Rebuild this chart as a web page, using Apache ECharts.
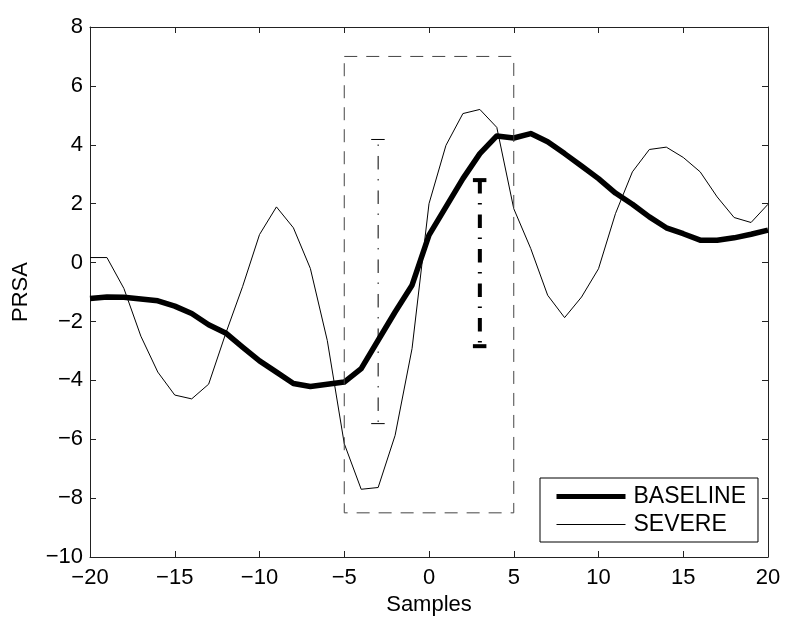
<!DOCTYPE html>
<html>
<head>
<meta charset="utf-8">
<script src="https://cdn.jsdelivr.net/npm/echarts@6/dist/echarts.min.js"></script>
<style>
  html, body { margin: 0; padding: 0; background: #fff; }
  #main { width: 790px; height: 624px; }
</style>
</head>
<body>
<div id="main"></div>
<script>
// sample index -20 .. 20
const samples = [-20, -19, -18, -17, -16, -15, -14, -13, -12, -11, -10, -9, -8, -7, -6, -5, -4, -3, -2, -1,
  0, 1, 2, 3, 4, 5, 6, 7, 8, 9, 10, 11, 12, 13, 14, 15, 16, 17, 18, 19, 20];

const baseline = [-1.22, -1.17, -1.18, -1.24, -1.30, -1.48, -1.73, -2.11, -2.39, -2.87, -3.34, -3.72, -4.11, -4.21, -4.13, -4.06, -3.60, -2.64, -1.68, -0.77,
  0.93, 1.89, 2.85, 3.70, 4.30, 4.23, 4.38, 4.10, 3.70, 3.28, 2.85, 2.36, 1.98, 1.55, 1.18, 0.98, 0.76, 0.76, 0.84, 0.96, 1.10];

const severe = [0.17, 0.17, -0.88, -2.50, -3.72, -4.50, -4.63, -4.13, -2.42, -0.82, 0.95, 1.89, 1.18, -0.20, -2.65, -6.15, -7.70, -7.64, -5.87, -2.92,
  2.00, 3.98, 5.06, 5.20, 4.59, 1.83, 0.48, -1.11, -1.87, -1.17, -0.21, 1.66, 3.08, 3.84, 3.92, 3.57, 3.08, 2.23, 1.53, 1.36, 1.98];

// dashed window: x from -5 to 5, y from -8.5 to 7
const boxX = [-5, 5];
const boxY = [-8.5, 7];

// dash-dot bars: [x, bottom, top]
const thinBar = [-3, -5.47, 4.18];
const thickBar = [3, -2.84, 2.80];

const xTicks = { min: -20, max: 20, step: 5 };
const yTicks = { min: -10, max: 8, step: 2 };

const FONT = '"Liberation Sans", Arial, sans-serif';
const minus = v => String(v).replace('-', '\u2212');

function seg(data, width, dash, offset) {
  return {
    type: 'line',
    data: data,
    symbol: 'none',
    silent: true,
    lineStyle: { color: '#000', width: width, type: dash, dashOffset: offset || 0, cap: 'butt' }
  };
}

function barSeries(bar, width) {
  const [x, lo, hi] = bar;
  const dd = [13.5, 9.5, 1.5, 10];
  return [
    seg([[x, hi], [x, lo]], width, dd, width > 2 ? 0 : 18),
    seg([[x - 1, hi], [x + 0.5, hi]], width, dd, 24.5),
    seg([[x - 1, lo], [x + 0.5, lo]], width, dd, 24.5)
  ];
}

const boxData = [[boxX[0], boxY[1]], [boxX[1], boxY[1]], [boxX[1], boxY[0]], [boxX[0], boxY[0]], [boxX[0], boxY[1]]];

const axisCommon = {
  type: 'value',
  splitLine: { show: false },
  axisLine: { show: true, onZero: false, lineStyle: { color: '#222', width: 1 } },
  axisTick: { show: true, inside: true, length: 6, lineStyle: { color: '#222' } }
};

let option = {
  backgroundColor: '#fff',
  animation: false,
  grid: { left: 90, right: 22, top: 27, bottom: 67 },
  xAxis: [
    Object.assign({}, axisCommon, {
      position: 'bottom',
      min: xTicks.min, max: xTicks.max, interval: xTicks.step,
      name: 'Samples',
      nameLocation: 'middle',
      nameGap: 34,
      nameTextStyle: { fontFamily: FONT, fontSize: 22, color: '#000' },
      axisLabel: { fontFamily: FONT, fontSize: 22, color: '#000', margin: 10, formatter: minus }
    }),
    Object.assign({}, axisCommon, {
      position: 'top',
      min: xTicks.min, max: xTicks.max, interval: xTicks.step,
      axisLabel: { show: false }
    })
  ],
  yAxis: [
    Object.assign({}, axisCommon, {
      position: 'left',
      min: yTicks.min, max: yTicks.max, interval: yTicks.step,
      name: 'PRSA',
      nameLocation: 'middle',
      nameGap: 58,
      nameTextStyle: { fontFamily: FONT, fontSize: 22, color: '#000' },
      axisLabel: { fontFamily: FONT, fontSize: 22, color: '#000', margin: 7, formatter: minus }
    }),
    Object.assign({}, axisCommon, {
      position: 'right',
      min: yTicks.min, max: yTicks.max, interval: yTicks.step,
      axisLabel: { show: false }
    })
  ],
  legend: {
    orient: 'vertical',
    left: 540,
    top: 478,
    padding: [7, 12, 6, 14],
    itemWidth: 69,
    itemHeight: 24,
    itemGap: 5,
    borderColor: '#000',
    borderWidth: 1,
    backgroundColor: '#fff',
    textStyle: { fontFamily: FONT, fontSize: 23, color: '#000', padding: [0, 0, 0, 3] },
    data: [
      { name: 'BASELINE', itemStyle: { opacity: 0 }, lineStyle: { width: 5, color: '#000' } },
      { name: 'SEVERE', itemStyle: { opacity: 0 }, lineStyle: { width: 1, color: '#000' } }
    ]
  },
  series: [
    {
      name: 'SEVERE',
      type: 'line',
      data: samples.map((s, i) => [s, severe[i]]),
      symbol: 'none',
      lineStyle: { color: '#000', width: 1 },
      itemStyle: { color: '#000' }
    },
    {
      name: 'BASELINE',
      type: 'line',
      data: samples.map((s, i) => [s, baseline[i]]),
      symbol: 'none',
      lineStyle: { color: '#000', width: 5.5, join: 'round' },
      itemStyle: { color: '#000' }
    },
    {
      type: 'line',
      data: boxData,
      symbol: 'none',
      silent: true,
      lineStyle: { color: '#444', width: 1, type: [13, 9] }
    },
    ...barSeries(thinBar, 1),
    ...barSeries(thickBar, 4)
  ]
};

let myChart = echarts.init(document.getElementById('main'));
myChart.setOption(option);
</script>
</body>
</html>
